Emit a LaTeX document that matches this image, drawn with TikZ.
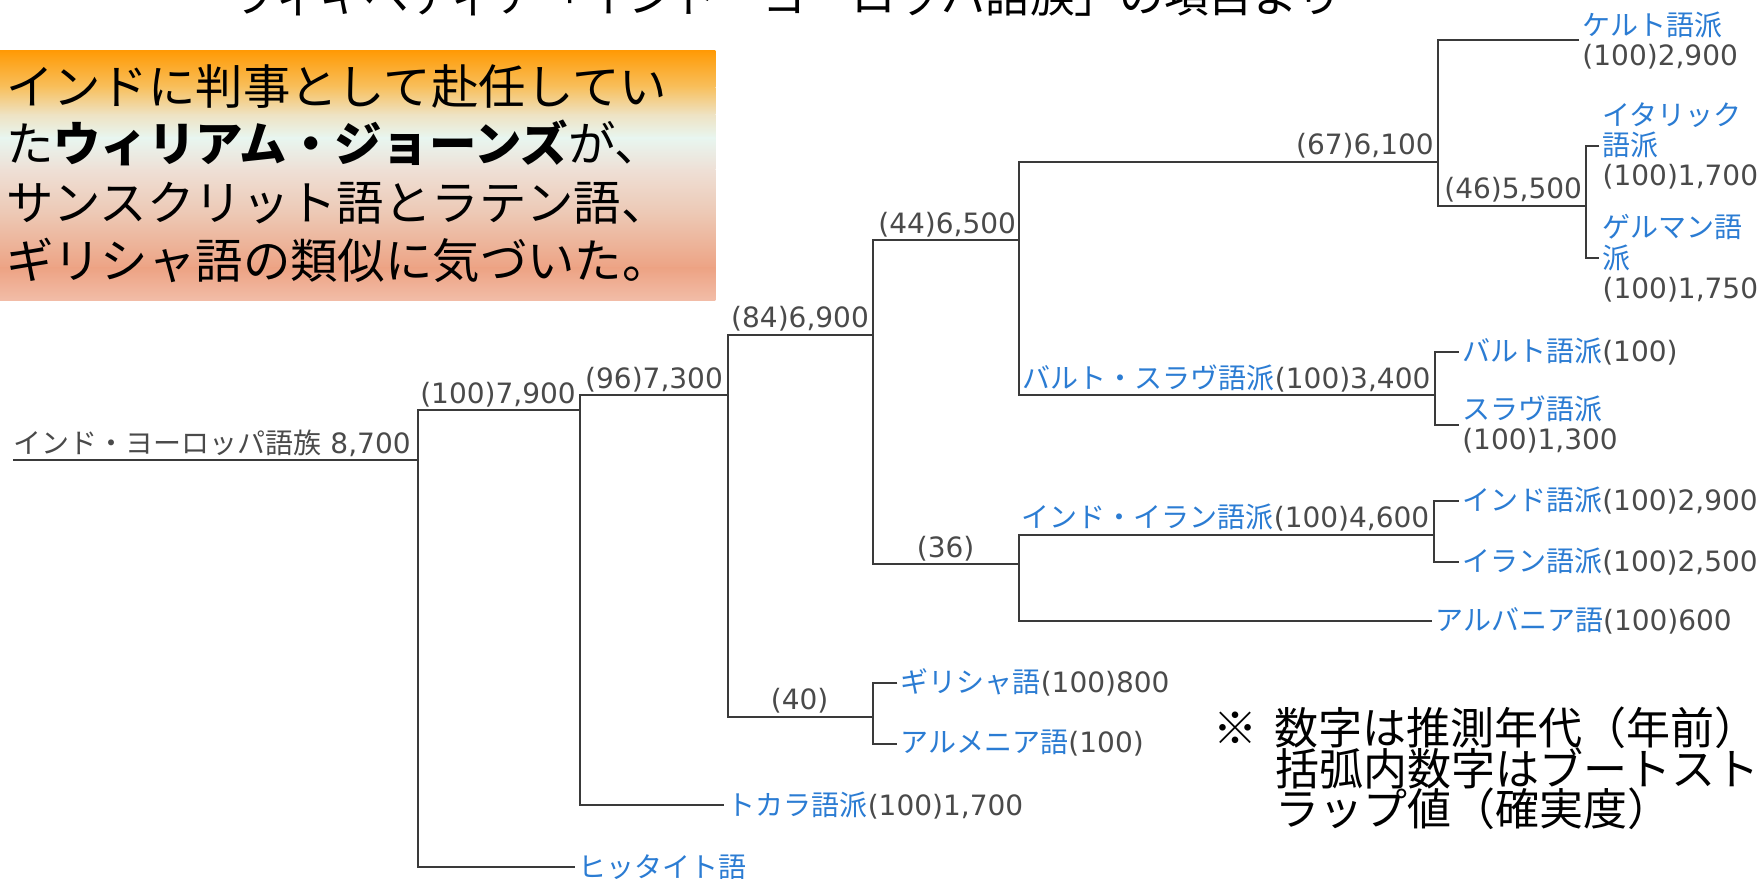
\documentclass[tikz,border=0pt]{standalone}
\usepackage{fontspec}
\setmainfont{DejaVu Sans}
\newfontfamily\jp{Noto Sans CJK JP}
\definecolor{tblue}{HTML}{2B7CD3}
\definecolor{tgray}{HTML}{4A4A4A}
\definecolor{tline}{HTML}{3A3A3A}
\definecolor{g0}{HTML}{FF9A05}
\definecolor{g1}{HTML}{F8C05E}
\definecolor{g2}{HTML}{EEE2C2}
\definecolor{g3}{HTML}{E8F6F0}
\definecolor{g4}{HTML}{EEE0D6}
\definecolor{g5}{HTML}{EDC8B4}
\definecolor{g6}{HTML}{EDA384}
\definecolor{g7}{HTML}{F2BDA8}
\newcommand\bl[1]{{\color{tblue}\jp\fontsize{14}{15.2}\selectfont #1}}
\newcommand\gj[1]{{\jp\fontsize{14}{15.2}\selectfont #1}}
\begin{document}
\begin{tikzpicture}[x=0.5615pt,y=-0.5615pt,
  tl/.style={draw=tline, line width=1pt},
  lab/.style={inner sep=0pt, text=tgray, font=\fontsize{14}{15.2}\selectfont},
  ilab/.style={lab, anchor=base east},
  clab/.style={lab, anchor=base},
  leaf/.style={lab, anchor=west, inner xsep=1.5pt, inner ysep=0pt, align=left},
  boxtxt/.style={inner sep=0pt, anchor=base west, font=\jp\fontsize{23.7}{29}\selectfont},
  captxt/.style={inner sep=0pt, anchor=base west, font=\jp\fontsize{22}{26}\selectfont},
  toptxt/.style={inner sep=0pt, anchor=base west, font=\jp\fontsize{22.3}{26}\selectfont}]
\useasboundingbox (0,0) rectangle (1568,782);
\fill[white] (0,0) rectangle (1568,782);
% gradient box
\fill[top color=g0, bottom color=g1] (0,45) rectangle (637,78);
\fill[top color=g1, bottom color=g2] (0,77.5) rectangle (637,102);
\fill[top color=g2, bottom color=g3] (0,101.5) rectangle (637,123);
\fill[top color=g3, bottom color=g4] (0,122.5) rectangle (637,151);
\fill[top color=g4, bottom color=g5] (0,150.5) rectangle (637,191);
\fill[top color=g5, bottom color=g6] (0,190.5) rectangle (637,239);
\fill[top color=g6, bottom color=g7] (0,238.5) rectangle (637,268);
\node[boxtxt] (b1) at (5,93) {インドに判事として赴任してい};
\node[boxtxt] (b2) at (5,144) {た{\bfseries ウィリアム・ジョーンズ}が、};
\node[boxtxt] (b3) at (5,196) {サンスクリット語とラテン語、};
\node[boxtxt] (b4) at (5,248) {ギリシャ語の類似に気づいた。};
% top caption (cut off)
\node[toptxt] (top) at (205,11) {ウィキペディア「インド・ヨーロッパ語族」の項目より};
% bottom-right note
\node[captxt] (c1) at (1080,663) {※\hspace{0.38em}数字は推測年代（年前）};
\node[captxt] (c2) at (1135,699) {括弧内数字はブートスト};
\node[captxt] (c3) at (1135,735) {ラップ値（確実度）};
% coordinates
\coordinate (r0) at (12,410);
\coordinate (j1) at (372,410); \coordinate (j1t) at (372,365); \coordinate (j1b) at (372,772);
\coordinate (j2t) at (516,352); \coordinate (j2m) at (516,365); \coordinate (j2b) at (516,717);
\coordinate (j3t) at (648,298); \coordinate (j3m) at (648,352); \coordinate (j3b) at (648,638);
\coordinate (j4t) at (777,214); \coordinate (j4m) at (777,298); \coordinate (j4b) at (777,502);
\coordinate (j5t) at (777,608); \coordinate (j5m) at (777,638); \coordinate (j5b) at (777,662);
\coordinate (j6t) at (907,144); \coordinate (j6m) at (907,214); \coordinate (j6b) at (907,352);
\coordinate (j7t) at (907,476); \coordinate (j7m) at (907,502); \coordinate (j7b) at (907,553);
\coordinate (j8t) at (1280,36); \coordinate (j8m) at (1280,144); \coordinate (j8b) at (1280,183);
\coordinate (j9t) at (1278,313); \coordinate (j9m) at (1278,352); \coordinate (j9b) at (1278,378);
\coordinate (j10t) at (1412,130); \coordinate (j10m) at (1412,183); \coordinate (j10b) at (1412,230);
\coordinate (j11t) at (1277,446); \coordinate (j11m) at (1277,476); \coordinate (j11b) at (1277,500);
% leaves
\node[leaf] (hit) at (512,772) {\bl{ヒッタイト語}};
\node[leaf] (toc) at (645,717) {\bl{トカラ語派}(100)1,700};
\node[leaf] (gre) at (799,608) {\bl{ギリシャ語}(100)800};
\node[leaf] (arm) at (799,662) {\bl{アルメニア語}(100)};
\node[leaf] (alb) at (1275,553) {\bl{アルバニア語}(100)600};
\node[leaf] (ind) at (1299,446) {\bl{インド語派}(100)2,900};
\node[leaf] (ira) at (1299,500) {\bl{イラン語派}(100)2,500};
\node[leaf] (bal) at (1299,313) {\bl{バルト語派}(100)};
\node[leaf] (sla) at (1299,378) {\bl{スラヴ語派}\\(100)1,300};
\node[leaf] (cel) at (1406,36) {\bl{ケルト語派}\\(100)2,900};
\node[leaf] (ita) at (1424,130) {\bl{イタリック}\\\bl{語派}\\(100)1,700};
\node[leaf] (ger) at (1424,230) {\bl{ゲルマン語}\\\bl{派}\\(100)1,750};
% internal labels
\node[ilab] (lroot) at (366,404) {\gj{インド・ヨーロッパ語族} 8,700};
\node[ilab] (l1) at (513,359) {(100)7,900};
\node[ilab] (l2) at (644,346) {(96)7,300};
\node[ilab] (l3) at (774,292) {(84)6,900};
\node[clab] (l5) at (712,632) {(40)};
\node[ilab] (l4) at (905,208) {(44)6,500};
\node[clab] (l7) at (842,496) {(36)};
\node[ilab] (l8) at (1277,138) {(67)6,100};
\node[ilab] (l9) at (1274,346) {\bl{バルト・スラヴ語派}(100)3,400};
\node[ilab] (l11) at (1273,470) {\bl{インド・イラン語派}(100)4,600};
\node[ilab] (l10) at (1409,177) {(46)5,500};
% connectors
\draw[tl] (r0) -- (j1);
\draw[tl] (j2m) -- (j1t) -- (j1b) -- (hit.west);
\draw[tl] (j3m) -- (j2t) -- (j2b) -- (toc.west);
\draw[tl] (j4m) -- (j3t) -- (j3b) -- (j5m);
\draw[tl] (gre.west) -- (j5t) -- (j5b) -- (arm.west);
\draw[tl] (j6m) -- (j4t) -- (j4b) -- (j7m);
\draw[tl] (j8m) -- (j6t) -- (j6b) -- (j9m);
\draw[tl] (cel.west) -- (j8t) -- (j8b) -- (j10m);
\draw[tl] (ita.west) -- (j10t) -- (j10b) -- (ger.west);
\draw[tl] (bal.west) -- (j9t) -- (j9b) -- (sla.west);
\draw[tl] (j11m) -- (j7t) -- (j7b) -- (alb.west);
\draw[tl] (ind.west) -- (j11t) -- (j11b) -- (ira.west);
\end{tikzpicture}
\end{document}
